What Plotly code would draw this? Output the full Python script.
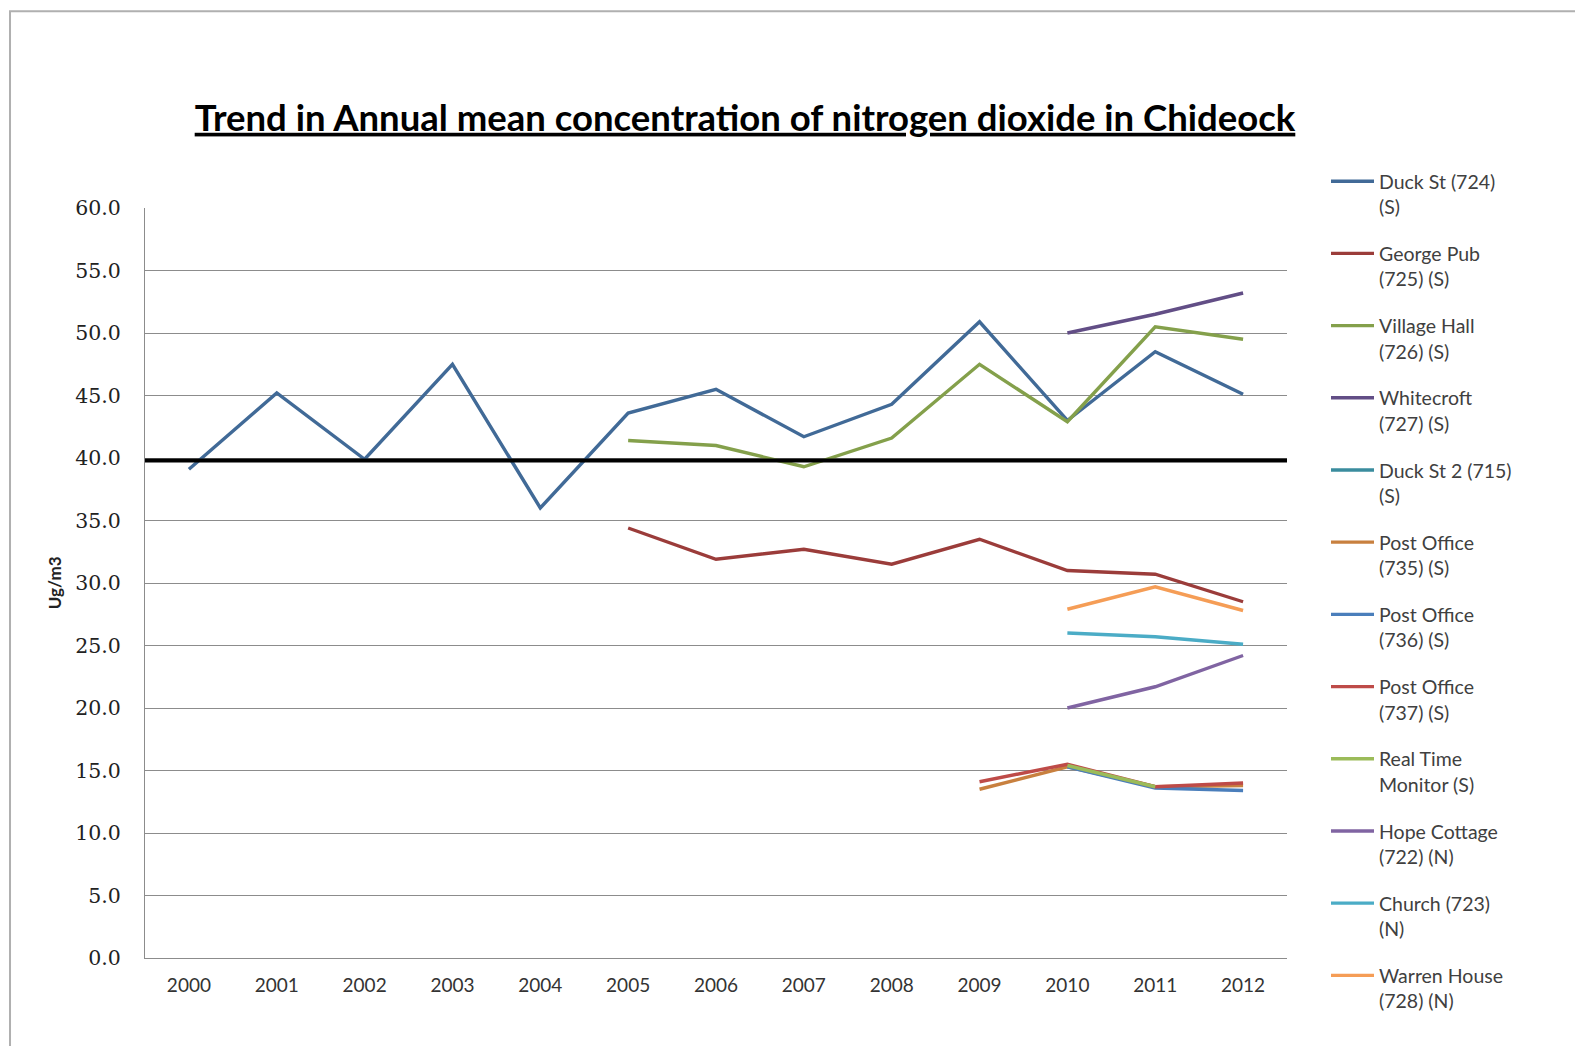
import plotly.graph_objects as go

# Annual mean NO2 concentrations (ug/m3) at Chideock diffusion-tube sites
years = ["2000", "2001", "2002", "2003", "2004", "2005", "2006",
         "2007", "2008", "2009", "2010", "2011", "2012"]

duck_st_724 = [39.1, 45.2, 39.9, 47.5, 36.0, 43.6, 45.5, 41.7, 44.3, 50.9, 43.0, 48.5, 45.1]
george_pub_725 = [None, None, None, None, None, 34.4, 31.9, 32.7, 31.5, 33.5, 31.0, 30.7, 28.5]
village_hall_726 = [None, None, None, None, None, 41.4, 41.0, 39.3, 41.6, 47.5, 42.9, 50.5, 49.5]
whitecroft_727 = [None] * 10 + [50.0, 51.5, 53.2]
duck_st2_715 = [None] * 13
post_office_735 = [None] * 9 + [13.5, 15.3, 13.7, 13.8]
post_office_736 = [None] * 10 + [15.3, 13.6, 13.4]
post_office_737 = [None] * 9 + [14.1, 15.5, 13.7, 14.0]
real_time_monitor = [None] * 10 + [15.4, 13.7, None]
hope_cottage_722 = [None] * 10 + [20.0, 21.7, 24.2]
church_723 = [None] * 10 + [26.0, 25.7, 25.1]
warren_house_728 = [None] * 10 + [27.9, 29.7, 27.8]

# Air quality objective line
objective = 39.8

series_names = [
    "Duck St (724)<br>(S)", "George Pub<br>(725) (S)", "Village Hall<br>(726) (S)",
    "Whitecroft<br>(727) (S)", "Duck St 2 (715)<br>(S)", "Post Office<br>(735) (S)",
    "Post Office<br>(736) (S)", "Post Office<br>(737) (S)", "Real Time<br>Monitor (S)",
    "Hope Cottage<br>(722) (N)", "Church (723)<br>(N)", "Warren House<br>(728) (N)",
]
series_values = [
    duck_st_724, george_pub_725, village_hall_726, whitecroft_727, duck_st2_715,
    post_office_735, post_office_736, post_office_737, real_time_monitor,
    hope_cottage_722, church_723, warren_house_728,
]
series_colors = [
    "#416A97", "#9B3C3A", "#84A04B", "#624E86", "#3A8C9E", "#C8803F",
    "#4A7EBB", "#BE4B48", "#9BBB59", "#8064A2", "#4BACC6", "#F59D56",
]

fig = go.Figure()
for i, (name, vals, col) in enumerate(zip(series_names, series_values, series_colors)):
    fig.add_trace(go.Scatter(
        x=years, y=vals, name=name, mode="lines",
        line=dict(color=col, width=3.4),
        legendgroup=f"g{i}",
        connectgaps=False,
    ))

# 40 ug/m3 objective drawn across the full plot width
fig.add_shape(type="line", xref="paper", x0=0, x1=1, yref="y", y0=objective, y1=objective,
              line=dict(color="black", width=4), layer="above")

# Outer chart-area border (left and top edges visible)
fig.add_shape(type="rect", xref="paper", yref="paper",
              x0=-0.1182, x1=1.26, y0=-0.125, y1=1.2623,
              line=dict(color="#B0B0B0", width=2), layer="below")

fig.add_annotation(
    text="<b>Ug/m3</b>", xref="paper", yref="paper", x=-0.0795, y=0.5,
    xanchor="center", yanchor="middle",
    textangle=-90, showarrow=False, font=dict(family="Lato", size=17, color="#222222"),
)

fig.update_layout(
    width=1575, height=1046,
    margin=dict(l=145, r=288, t=208, b=88),
    paper_bgcolor="white", plot_bgcolor="white",
    title=dict(
        text="<b>Trend in Annual mean concentration of nitrogen dioxide in Chideock</b>",
        xref="container", x=745 / 1575, xanchor="center",
        yref="container", y=1 - 118 / 1046, yanchor="middle",
        font=dict(family="Lato", size=36.5, color="black", lineposition="under"),
    ),
    xaxis=dict(
        type="category", range=[-0.5, 12.5],
        showgrid=False, showline=True, linecolor="#8C8C8C", linewidth=1,
        ticks="", tickfont=dict(family="Lato", size=19, color="#333333"),
        ticklabelstandoff=10, zeroline=False,
    ),
    yaxis=dict(
        range=[0, 60], dtick=5, tickformat=".1f",
        showgrid=True, gridcolor="#8C8C8C", gridwidth=1,
        showline=True, linecolor="#8C8C8C", linewidth=1,
        ticks="", tickfont=dict(family="DejaVu Serif", size=20.5, color="#222222"),
        ticklabelstandoff=19, zeroline=False,
    ),
    showlegend=True,
    legend=dict(
        xref="container", yref="container", x=1326 / 1575, y=1 - 162 / 1046,
        xanchor="left", yanchor="top",
        font=dict(family="Lato", size=19.5, color="#404040"),
        itemwidth=43, valign="top", tracegroupgap=18.5, maxheight=1000,
        bgcolor="rgba(0,0,0,0)", borderwidth=0,
    ),
)

fig.write_html("out.html")
